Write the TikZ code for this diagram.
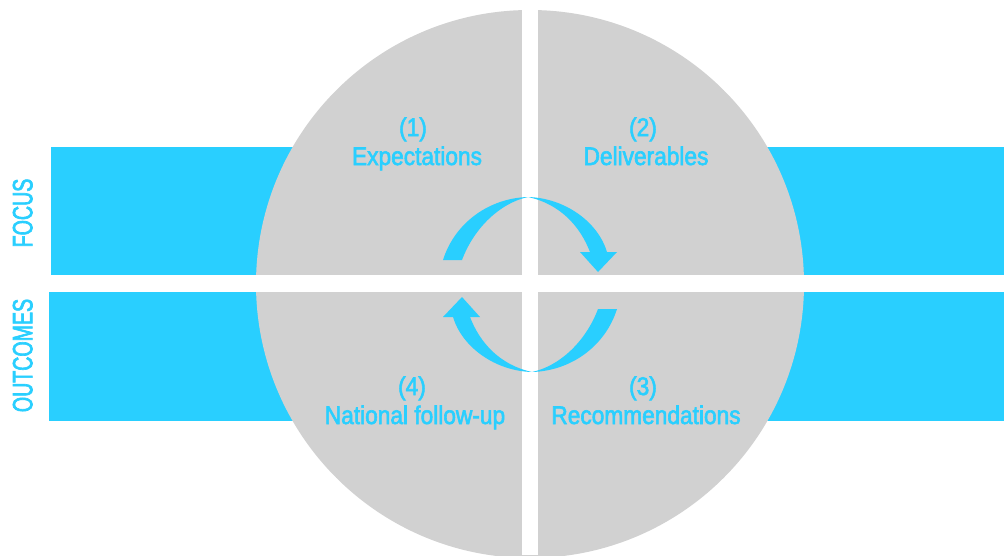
\documentclass[tikz,border=0pt]{standalone}
\usepackage{fontspec}
\setmainfont{Liberation Sans}
\newfontfamily\lblfont[FakeStretch=0.89,FakeBold=2.3]{Liberation Sans}
\newfontfamily\sidefont[FakeStretch=0.7,FakeBold=2.3]{Liberation Sans}
\definecolor{cblue}{RGB}{41,207,255}
\definecolor{cgray}{RGB}{209,209,209}
\begin{document}
\begin{tikzpicture}[x=1pt,y=-1pt,
  lbl/.style={inner sep=0pt, anchor=base, text=cblue, font=\lblfont\fontsize{25.5}{25.5}\selectfont},
  side/.style={inner sep=0pt, text=cblue, rotate=90, font=\sidefont\fontsize{28}{28}\selectfont},
  arrowfill/.style={fill=cblue},
  band/.style={fill=cblue},
  gap/.style={fill=white}]
\useasboundingbox (0,0) rectangle (1004,555);
\clip (0,0) rectangle (1004,555);
\fill[white] (0,0) rectangle (1004,555);
% bands
\fill[band] (51,147) rectangle (1004,275);
\fill[band] (49,292) rectangle (1004,421);
% circle
\fill[cgray] (530,284) circle[radius=274pt];
% gaps
\fill[gap] (522,0) rectangle (538,555);
\fill[gap] (0,275) rectangle (1004,292);
% cycle arrows
\def\cyclearrow{(443,260) .. controls (455,222) and (490,198) .. (528,197)
  .. controls (565,198) and (598,222) .. (607,252)
  -- (617,252) -- (598,272) -- (580,252) -- (590,252)
  .. controls (580,226) and (560,204) .. (528,197)
  .. controls (500,203) and (474,228) .. (462,260) -- cycle}
\fill[arrowfill] \cyclearrow;
\fill[arrowfill, rotate around={180:(530,284.5)}] \cyclearrow;
% labels
\node[lbl] (n1) at (413,136) {(1)};
\node[lbl] (t1) at (417,165) {Expectations};
\node[lbl] (n2) at (643,136) {(2)};
\node[lbl] (t2) at (646,165) {Deliverables};
\node[lbl] (n4) at (412,395) {(4)};
\node[lbl] (t4) at (415,424) {National follow-up};
\node[lbl] (n3) at (643,395) {(3)};
\node[lbl] (t3) at (646,424) {Recommendations};
\node[side] (focus) at (22.7,213) {FOCUS};
\node[side] (outc) at (22.7,355.5) {OUTCOMES};
\end{tikzpicture}
\end{document}
